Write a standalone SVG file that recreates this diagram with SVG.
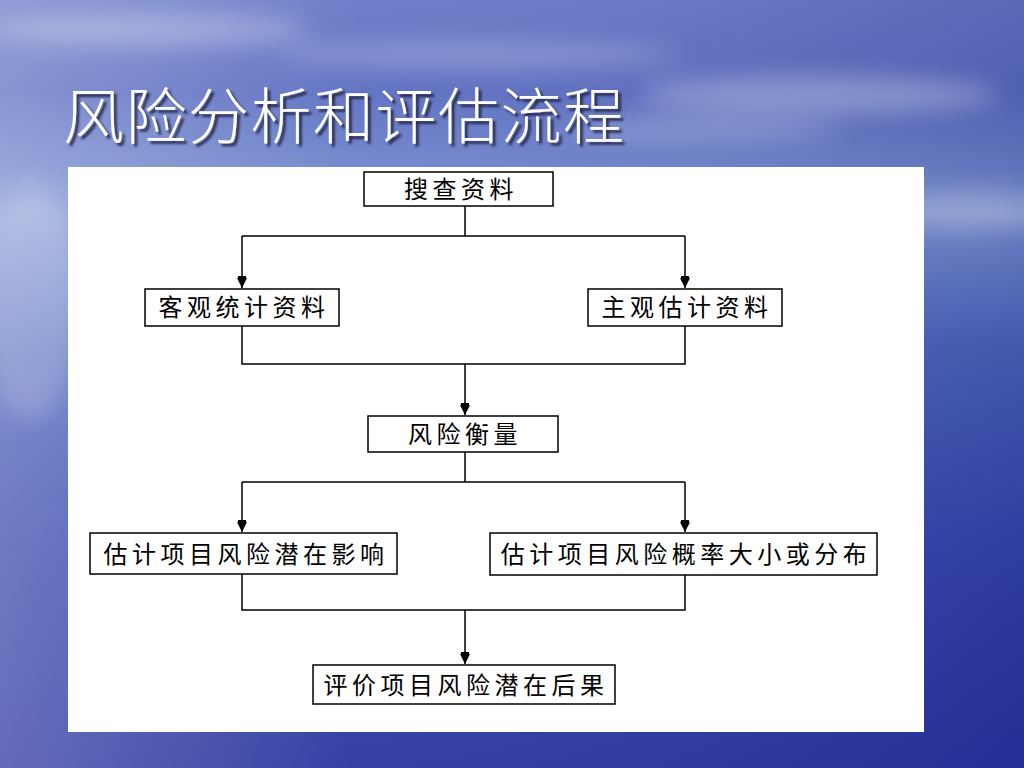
<svg xmlns="http://www.w3.org/2000/svg" width="1024" height="768" viewBox="0 0 1024 768">
<defs>
<linearGradient id="bgV" x1="0" y1="0" x2="0" y2="1">
<stop offset="0" stop-color="#6677c6"/>
<stop offset="0.12" stop-color="#5a6cc0"/>
<stop offset="0.28" stop-color="#7a92d2"/>
<stop offset="0.45" stop-color="#4c64bc"/>
<stop offset="0.7" stop-color="#3646ac"/>
<stop offset="1" stop-color="#28339e"/>
</linearGradient>
<linearGradient id="bgH" x1="0" y1="0" x2="1" y2="0">
<stop offset="0" stop-color="#ffffff" stop-opacity="0.28"/>
<stop offset="0.35" stop-color="#ffffff" stop-opacity="0.06"/>
<stop offset="1" stop-color="#000040" stop-opacity="0.12"/>
</linearGradient>
<filter id="blur" x="-50%" y="-50%" width="200%" height="200%"><feGaussianBlur stdDeviation="12"/></filter>
<filter id="shadow" x="-10%" y="-20%" width="130%" height="150%"><feDropShadow dx="3" dy="3" stdDeviation="1.2" flood-color="#1a1a40" flood-opacity="0.85"/></filter>
<marker id="arr" viewBox="0 0 12 10" refX="12" refY="5" markerWidth="12" markerHeight="10" markerUnits="userSpaceOnUse" orient="auto">
<path d="M2,0 L2,10 L12,5 z M0,1 L2,1 L2,9 L0,9 z" fill="#000"/>
</marker>
<style>
.box{fill:#fff;stroke:#000;stroke-width:1.5}
.lbl{font-family:"Noto Sans CJK SC","Noto Sans CJK JP",sans-serif;font-size:24px;fill:#000;text-anchor:middle;letter-spacing:4.5px}
.wire{fill:none;stroke:#000;stroke-width:1.5}
.title{font-family:"Noto Sans CJK SC","Noto Sans CJK JP",sans-serif;font-size:61px;font-weight:300;letter-spacing:1.5px}
</style>
</defs>
<rect x="0" y="0" width="1024" height="768" fill="url(#bgV)"/>
<rect x="0" y="0" width="1024" height="768" fill="url(#bgH)"/>
<g fill="#ffffff" filter="url(#blur)">
<ellipse cx="150" cy="30" rx="160" ry="16" opacity="0.3"/>
<ellipse cx="480" cy="55" rx="200" ry="12" opacity="0.25"/>
<ellipse cx="820" cy="95" rx="180" ry="18" opacity="0.3"/>
<ellipse cx="700" cy="130" rx="140" ry="10" opacity="0.25"/>
<ellipse cx="30" cy="300" rx="50" ry="120" opacity="0.2"/>
<ellipse cx="970" cy="210" rx="80" ry="20" opacity="0.25"/>
</g>
<text class="title" x="63" y="139" fill="#ffffff" filter="url(#shadow)">风险分析和评估流程</text>
<rect x="68" y="167" width="856" height="565" fill="#ffffff"/>
<g id="connectors">
<path class="wire" d="M465,206 V236 M242,236 H685"/>
<path class="wire" d="M242,236 V288" marker-end="url(#arr)"/>
<path class="wire" d="M685,236 V288" marker-end="url(#arr)"/>
<path class="wire" d="M242,326 V364 H685 V326"/>
<path class="wire" d="M465,364 V415" marker-end="url(#arr)"/>
<path class="wire" d="M465,452 V482 M242,482 H685"/>
<path class="wire" d="M242,482 V532" marker-end="url(#arr)"/>
<path class="wire" d="M685,482 V532" marker-end="url(#arr)"/>
<path class="wire" d="M242,574 V610 H685 V575"/>
<path class="wire" d="M465,610 V664" marker-end="url(#arr)"/>
</g>
<g id="n1"><rect class="box" x="364" y="172" width="189" height="34"/><text class="lbl" x="461" y="198">搜查资料</text></g>
<g id="n2"><rect class="box" x="145" y="289" width="194" height="37"/><text class="lbl" x="244" y="316">客观统计资料</text></g>
<g id="n3"><rect class="box" x="588" y="289" width="194" height="37"/><text class="lbl" x="687" y="316">主观估计资料</text></g>
<g id="n4"><rect class="box" x="368" y="416" width="190" height="36"/><text class="lbl" x="465" y="443">风险衡量</text></g>
<g id="n5"><rect class="box" x="90" y="533" width="307" height="41"/><text class="lbl" x="246" y="563">估计项目风险潜在影响</text></g>
<g id="n6"><rect class="box" x="490" y="533" width="387" height="42"/><text class="lbl" x="686" y="563">估计项目风险概率大小或分布</text></g>
<g id="n7"><rect class="box" x="313" y="665" width="302" height="39"/><text class="lbl" x="466" y="694">评价项目风险潜在后果</text></g>
</svg>
